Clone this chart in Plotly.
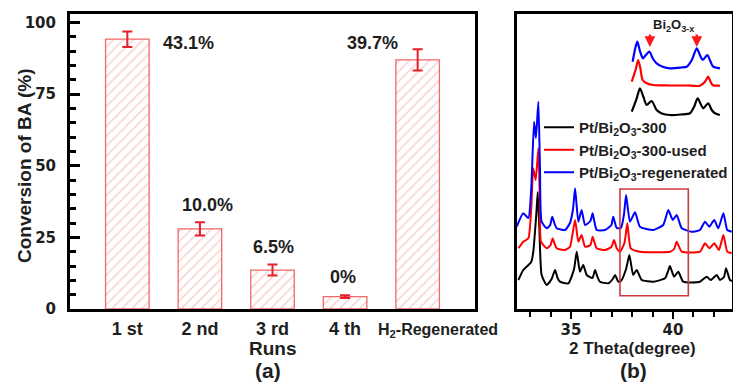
import plotly.graph_objects as go

# ---------------- (a) conversion of BA over successive runs ----------------
runs = ["1 st", "2 nd", "3 rd", "4 th", "H<sub>2</sub>-Regenerated"]
conversion = [94.2, 28.0, 13.6, 4.3, 87.0]
conversion_err = [2.7, 2.3, 1.9, 0.5, 3.7]
run_notes = ["43.1%", "10.0%", "6.5%", "0%", "39.7%"]

# ---------------- (b) XRD patterns (2 theta in degrees, intensity a.u.) ----------------
tt_fresh = [32.42, 32.66, 32.91, 33.05, 33.15, 33.30, 33.37, 33.45, 33.56, 33.81, 34.05, 34.22, 34.34, 34.46,
            34.87, 35.15, 35.28, 35.44, 35.60, 35.77, 36.05, 36.18, 36.30, 36.42, 36.83, 37.05, 37.16,
            37.32, 37.45, 37.70, 37.86, 38.05, 38.22, 38.47, 39.03, 39.61, 39.76, 39.85, 40.05, 40.26,
            40.50, 41.32, 41.65, 41.85, 42.14, 42.30, 42.50, 42.60, 42.79, 42.89]
int_fresh = [29, 39, 44, 47, 57, 95, 117, 80, 34, 24, 30, 39, 31, 27.3,
             25.7, 40, 57.3, 37.3, 44, 34, 31, 39, 32, 27.3, 25.7, 30, 34,
             27.3, 28, 40, 54, 34, 39, 29, 27.3, 30.7, 38, 43, 32.3, 37.3,
             27.3, 27.3, 32.3, 29, 34, 29, 32, 40.7, 29, 28]

tt_used = [32.42, 32.66, 32.91, 33.05, 33.15, 33.27, 33.40, 33.47, 33.53, 33.81, 34.00, 34.10, 34.20, 34.30,
           34.71, 34.95, 35.20, 35.36, 35.52, 35.69, 35.95, 36.06, 36.16, 36.26, 36.67, 36.98, 37.11,
           37.24, 37.40, 37.62, 37.76, 37.93, 38.38, 39.85, 40.06, 40.18, 40.43, 41.32, 41.57, 41.78,
           42.02, 42.25, 42.47, 42.66, 42.88]
int_used = [60.7, 67.3, 70.7, 100, 140.7, 129, 160.7, 110, 67.3, 60.7, 64, 70.7, 65, 60.7,
            59, 62.3, 89, 67.3, 74, 62.3, 64, 72.3, 66, 60.7, 59, 62, 69,
            60.7, 57.3, 66, 85.7, 60.7, 57.3, 57.3, 60, 67.3, 57.3, 57.3, 65.7, 60.7,
            65.7, 59, 74, 57.3, 55.7]

tt_regen = [32.34, 32.66, 32.91, 33.05, 33.19, 33.28, 33.40, 33.48, 33.56, 33.81, 33.98, 34.08, 34.20, 34.30,
            34.71, 34.95, 35.10, 35.20, 35.36, 35.52, 35.69, 35.95, 36.06, 36.16, 36.26, 36.67, 36.98,
            37.07, 37.24, 37.45, 37.60, 37.70, 37.89, 38.14, 38.38, 39.03, 39.52, 39.77, 39.99, 40.18,
            40.43, 40.92, 41.32, 41.57, 41.78, 42.02, 42.22, 42.47, 42.66, 42.88]
int_regen = [82.3, 95.7, 91, 120, 187.3, 171, 207.3, 140, 87.3, 80.7, 84, 92.3, 85, 80.7,
             79, 86, 100, 120.7, 87.3, 99, 84, 88, 95.7, 86, 79, 79, 84,
             92.3, 81, 81, 95, 114, 87.3, 96.7, 82.3, 79, 84, 99, 89, 94,
             80.7, 77.3, 79, 87.3, 82.3, 89, 80.7, 95.7, 79, 77.3]

# magnified 37.5-40.5 degree window (inset)
tt_zoom_fresh = [37.52, 37.69, 37.80, 37.92, 38.03, 38.20, 38.37, 38.55, 38.83, 39.20, 39.51, 39.65, 39.77,
                 39.96, 40.13, 40.25, 40.36, 40.53]
int_zoom_fresh = [197.3, 210.7, 220.7, 212, 204, 208, 199, 195.5, 194, 194.5, 195.7, 202.3, 210.7,
                  200.7, 205.7, 199, 195.7, 194]
tt_zoom_used = [37.52, 37.66, 37.74, 37.82, 37.89, 38.05, 38.26, 38.80, 39.40, 39.85, 40.02, 40.13, 40.20,
                40.28, 40.53]
int_zoom_used = [227.3, 240, 249, 240, 229, 225.5, 224, 223.5, 223.5, 223.3, 227.3, 232.3, 228,
                 224, 223.3]
tt_zoom_regen = [37.55, 37.65, 37.71, 37.80, 37.90, 38.00, 38.12, 38.25, 38.37, 38.60, 38.83, 39.20, 39.40,
                 39.57, 39.74, 39.86, 39.94, 40.10, 40.20, 40.30, 40.53]
int_zoom_regen = [247.3, 262, 267.3, 258, 250.7, 254, 257.3, 250, 245.7, 242, 240.7, 241.5, 242.3,
                  249, 260.7, 253, 249, 254, 248, 242.3, 240.7]

bi2o3x_peaks = [38.14, 39.74]      # reflections marked in the magnified window
zoom_window = (37.4, 40.75)        # 2 theta span of the framed region

BOLD_ARIAL = dict(family="Liberation Sans, Arial, sans-serif", weight=700, color="#1e1e1e")
BOLD_WIDE = dict(family="DejaVu Sans, Verdana, sans-serif", weight=700, color="#1e1e1e")


def py(v):
    """Paper y fraction for a distance v (px) from the top of the 383 px canvas."""
    return 1 - v / 383


fig = go.Figure()

fig.add_trace(go.Bar(
    x=list(range(len(runs))), y=conversion, width=0.6,
    marker=dict(color="white", line=dict(color="#f06868", width=1.3),
                pattern=dict(shape="/", fgcolor="#f39a9a", bgcolor="white", size=7, solidity=0.2)),
    error_y=dict(type="data", array=conversion_err, visible=True, color="#e5202a", thickness=2, width=5),
    xaxis="x", yaxis="y", showlegend=False,
))

xrd_sets = [
    ("Pt/Bi<sub>2</sub>O<sub>3</sub>-300", tt_fresh, int_fresh, tt_zoom_fresh, int_zoom_fresh, "#000000"),
    ("Pt/Bi<sub>2</sub>O<sub>3</sub>-300-used", tt_used, int_used, tt_zoom_used, int_zoom_used, "#ff0000"),
    ("Pt/Bi<sub>2</sub>O<sub>3</sub>-regenerated", tt_regen, int_regen, tt_zoom_regen, int_zoom_regen, "#0000ff"),
]
for name, tt, inten, ttz, intz, col in xrd_sets:
    fig.add_trace(go.Scatter(x=tt, y=inten, mode="lines", name=name,
                             line=dict(color=col, width=2, shape="spline", smoothing=0.5),
                             xaxis="x2", yaxis="y2"))
    fig.add_trace(go.Scatter(x=ttz, y=intz, mode="lines", showlegend=False,
                             line=dict(color=col, width=2.2, shape="spline", smoothing=0.7),
                             xaxis="x3", yaxis="y2"))

# value notes beside the bars (offsets in category / % units)
note_dx = [0.84, 0.11, 0.02, -0.03, -0.62]
note_dy = [-1.3, 8.3, 8.1, 6.9, 5.9]
annotations = []
for i, txt in enumerate(run_notes):
    annotations.append(dict(x=i + note_dx[i], y=conversion[i] + note_dy[i], xref="x", yref="y",
                            xanchor="center", yanchor="middle",
                            text=txt, showarrow=False, font=dict(size=18, **BOLD_ARIAL)))

# last category label sits a little to the right of its bar
annotations.append(dict(x=3.43, y=py(330), xref="x", yref="paper", xanchor="left", yanchor="middle",
                        text=runs[-1], showarrow=False, font=dict(size=16, **BOLD_ARIAL)))

annotations += [
    dict(x=25 / 733, y=py(166), xref="paper", yref="paper", text="Conversion of BA (%)",
         textangle=-90, font=dict(size=19, **BOLD_ARIAL)),
    dict(x=272.5 / 733, y=py(348), xref="paper", yref="paper", text="Runs",
         font=dict(size=19, **BOLD_ARIAL)),
    dict(x=268 / 733, y=py(370), xref="paper", yref="paper", text="(a)",
         font=dict(size=21, **BOLD_ARIAL)),
    dict(x=632 / 733, y=py(348), xref="paper", yref="paper", text="2 Theta(degree)",
         font=dict(size=17, **BOLD_ARIAL)),
    dict(x=633 / 733, y=py(370), xref="paper", yref="paper", text="(b)",
         font=dict(size=21, **BOLD_ARIAL)),
    dict(x=sum(bi2o3x_peaks) / 2, y=283.3, xref="x3", yref="y2",
         text="Bi<sub>2</sub>O<sub>3-x</sub>", font=dict(size=13, **BOLD_ARIAL)),
]
for a in annotations[-6:]:
    a.update(showarrow=False, xanchor="center", yanchor="middle")

for pk in bi2o3x_peaks:
    annotations.append(dict(x=pk, y=262, xref="x3", yref="y2", text="", showarrow=True,
                            ax=0, ay=-14, arrowhead=2, arrowsize=0.9, arrowwidth=2.4,
                            arrowcolor="#ff1a1a"))

y_dom = [py(309), py(14)]

fig.update_layout(
    width=733, height=383,
    margin=dict(l=0, r=0, t=0, b=0, autoexpand=False),
    paper_bgcolor="white", plot_bgcolor="rgba(0,0,0,0)",
    font=dict(family="Liberation Sans, Arial, sans-serif"),
    xaxis=dict(domain=[70 / 733, 475 / 733], range=[-0.79, 4.79], anchor="y",
               tickvals=[0, 1, 2, 3], ticktext=runs[:4], ticks="", ticklabelstandoff=1,
               tickfont=dict(size=18, **BOLD_ARIAL), automargin=False,
               showline=True, linewidth=3, linecolor="black", mirror=True,
               showgrid=False, zeroline=False),
    yaxis=dict(domain=y_dom, range=[0, 103.0], anchor="x", automargin=False,
               tickvals=[0, 25, 50, 75, 100], ticks="inside", ticklen=10, tickwidth=3,
               tickcolor="black", ticklabelstandoff=8,
               minor=dict(dtick=5, ticks="inside", ticklen=6, tickwidth=2.5, tickcolor="black"),
               tickfont=dict(size=15, **BOLD_WIDE),
               showline=True, linewidth=3, linecolor="black", mirror=True,
               showgrid=False, zeroline=False),
    xaxis2=dict(domain=[517 / 733, 732 / 733], range=[32.353, 42.892], anchor="y2", automargin=False,
                tickvals=[35, 40], ticks="outside", ticklen=7, tickwidth=2, tickcolor="black",
                ticklabelstandoff=-2,
                minor=dict(dtick=1, ticks="outside", ticklen=5, tickwidth=2, tickcolor="black"),
                tickfont=dict(size=15, **BOLD_WIDE),
                showline=True, linewidth=3, linecolor="black", mirror=True,
                showgrid=False, zeroline=False),
    yaxis2=dict(domain=y_dom, range=[0, 295], anchor="x2", showticklabels=False, ticks="",
                automargin=False,
                showline=True, linewidth=3, linecolor="black", mirror=True,
                showgrid=False, zeroline=False),
    xaxis3=dict(domain=[630 / 733, 722 / 733], range=[37.461, 40.601], anchor="y2", visible=False),
    legend=dict(x=539 / 733, y=py(111), xanchor="left", yanchor="top",
                bgcolor="rgba(0,0,0,0)", font=dict(size=15, **BOLD_ARIAL),
                tracegroupgap=0, itemwidth=30),
    shapes=[dict(type="rect", xref="x2", yref="y2", x0=zoom_window[0], x1=zoom_window[1],
                 y0=13.3, y1=120, line=dict(color="#cf3a3a", width=1.6))],
    annotations=annotations,
)

fig.write_html("out.html")
